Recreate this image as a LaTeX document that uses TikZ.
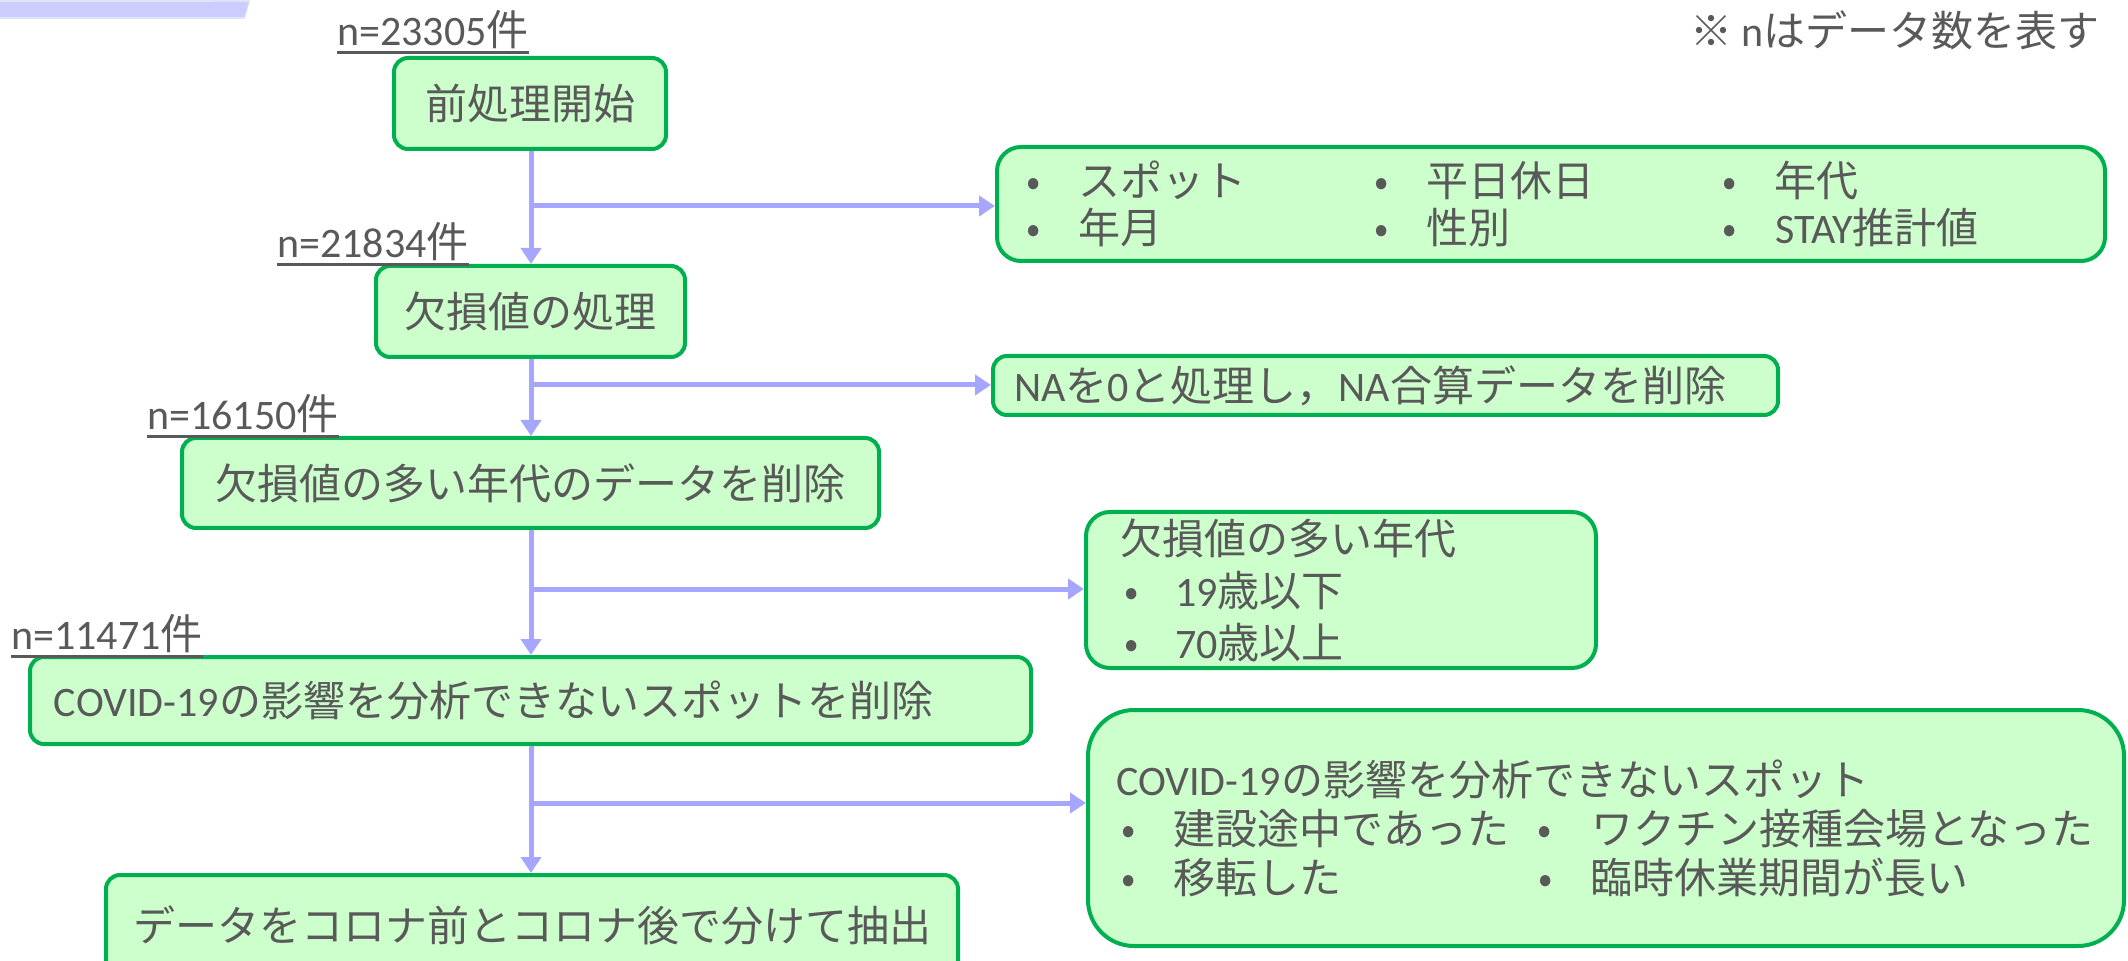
\documentclass[tikz,border=0pt]{standalone}
\usepackage{fontspec}
\setmainfont{Noto Sans CJK JP}
\newfontfamily\lat{Carlito}
\usetikzlibrary{arrows.meta}
\definecolor{txt}{HTML}{595959}
\definecolor{boxfill}{HTML}{CCFFCC}
\definecolor{boxline}{HTML}{00B050}
\definecolor{arrowc}{HTML}{A6A6FF}
\definecolor{bandc}{HTML}{CCCCFF}
\definecolor{bandlight}{HTML}{DCE6F4}
\newcommand{\blt}[1]{\makebox[#1][l]{•}}
\tikzset{
  box/.style={draw=boxline, fill=boxfill, line width=2pt, rounded corners=7pt,
    text=txt, inner ysep=0pt, font=\fontsize{21}{24}\selectfont},
  arr/.style={draw=arrowc, line width=2.5pt, -{Triangle[length=8pt,width=10pt]}},
  nlab/.style={text=txt, inner sep=0pt, font=\fontsize{21}{24}\selectfont, anchor=west},
  ul/.style={draw=txt, line width=1.3pt}
}
\begin{document}
\begin{tikzpicture}[x=0.5pt,y=-0.5pt]
\useasboundingbox (0,0) rectangle (2128,961);
\clip (0,0) rectangle (2128,961);
% top-left band fragment
\fill[bandlight] (0,0) -- (250,0) -- (245,19) -- (0,19) -- cycle;
\fill[bandc] (0,2) -- (249,2) -- (244,17) -- (0,17) -- cycle;
\fill[bandlight] (0,0) -- (213,0) -- (212,2) -- (0,2) -- cycle;

% main boxes
\node[box, minimum width=136pt, minimum height=45.5pt] (b1) at (530,103.5) {前処理開始};
\node[box, minimum width=154.5pt, minimum height=45.5pt] (b2) at (530.5,311.5) {欠損値の処理};
\node[box, minimum width=348.5pt, minimum height=45pt] (b3) at (530.5,483) {欠損値の多い年代のデータを削除};
\node[box, minimum height=43.5pt, text width=476.5pt, inner xsep=12pt, align=left] (b4) at (530.5,700.5) {{\lat COVID-19}の影響を分析できないスポットを削除};
\node[box, minimum width=426pt, minimum height=50pt] (b5) at (532,925) {データをコロナ前とコロナ後で分けて抽出};

% side boxes
\node[box, rounded corners=12pt, minimum height=57pt, text width=525pt, inner xsep=14.5pt, align=left, font=\fontsize{21}{23.5}\selectfont] (sA) at (1551,204)
 {\makebox[174pt][l]{\blt{26.5pt}スポット}\makebox[174pt][l]{\blt{26.5pt}平日休日}\blt{26.5pt}年代\\
  \makebox[174pt][l]{\blt{26.5pt}年月}\makebox[174pt][l]{\blt{26.5pt}性別}\blt{26.5pt}{\lat STAY}推計値};
\node[box, minimum height=29.5pt, text width=371.5pt, inner xsep=10.5pt, align=left] (sB) at (1385.5,385.5)
 {{\lat NA}を{\lat 0}と処理し，{\lat NA}合算データを削除};
\node[box, rounded corners=12pt, minimum height=78pt, text width=221pt, inner xsep=17pt, align=left, font=\fontsize{21}{26}\selectfont] (sC) at (1341,590)
 {欠損値の多い年代\\
  \hspace*{2pt}\blt{25.5pt}{\lat 19}歳以下\\
  \hspace*{2pt}\blt{25.5pt}{\lat 70}歳以上};
\node[box, rounded corners=23pt, minimum height=118pt, text width=490pt, inner xsep=14pt, align=left, font=\fontsize{21}{24.5}\selectfont] (sD) at (1606,828)
 {{\lat COVID-19}の影響を分析できないスポット\\
  \hspace*{2.5pt}\makebox[208.5pt][l]{\blt{26.5pt}建設途中であった}\blt{26.5pt}ワクチン接種会場となった\\
  \hspace*{2.5pt}\makebox[208.5pt][l]{\blt{26.5pt}移転した}\blt{26.5pt}臨時休業期間が長い};

% n labels
\node[nlab] (n1) at (337,30) {{\lat n=23305}件};
\node[nlab] (n2) at (277,242) {{\lat n=21834}件};
\node[nlab] (n3) at (147,414) {{\lat n=16150}件};
\node[nlab] (n4) at (11,634) {{\lat n=11471}件};
\foreach \n in {n1,n2,n3,n4}{
  \draw[ul] ([yshift=-1.5pt]\n.south west) -- ([yshift=-1.5pt]\n.south east);
}
\node[text=txt, inner sep=0pt, font=\fontsize{21}{24}\selectfont, anchor=east] (note) at (2100,30) {※ {\lat n}はデータ数を表す};

% junctions
\coordinate (j1) at (531,206);
\coordinate (j2) at (531,385);
\coordinate (j3) at (531,589);
\coordinate (j4) at (531,803);

% main arrows
\draw[arr] (b1.south -| j1) -- (b2.north -| j1);
\draw[arr] (b2.south -| j1) -- (b3.north -| j1);
\draw[arr] (b3.south -| j1) -- (b4.north -| j1);
\draw[arr] (b4.south -| j1) -- (b5.north -| j1);

% branch arrows
\draw[arr] (j1) -- (j1 -| sA.west);
\draw[arr] (j2) -- (j2 -| sB.west);
\draw[arr] (j3) -- (j3 -| sC.west);
\draw[arr] (j4) -- (j4 -| sD.west);
\end{tikzpicture}
\end{document}
